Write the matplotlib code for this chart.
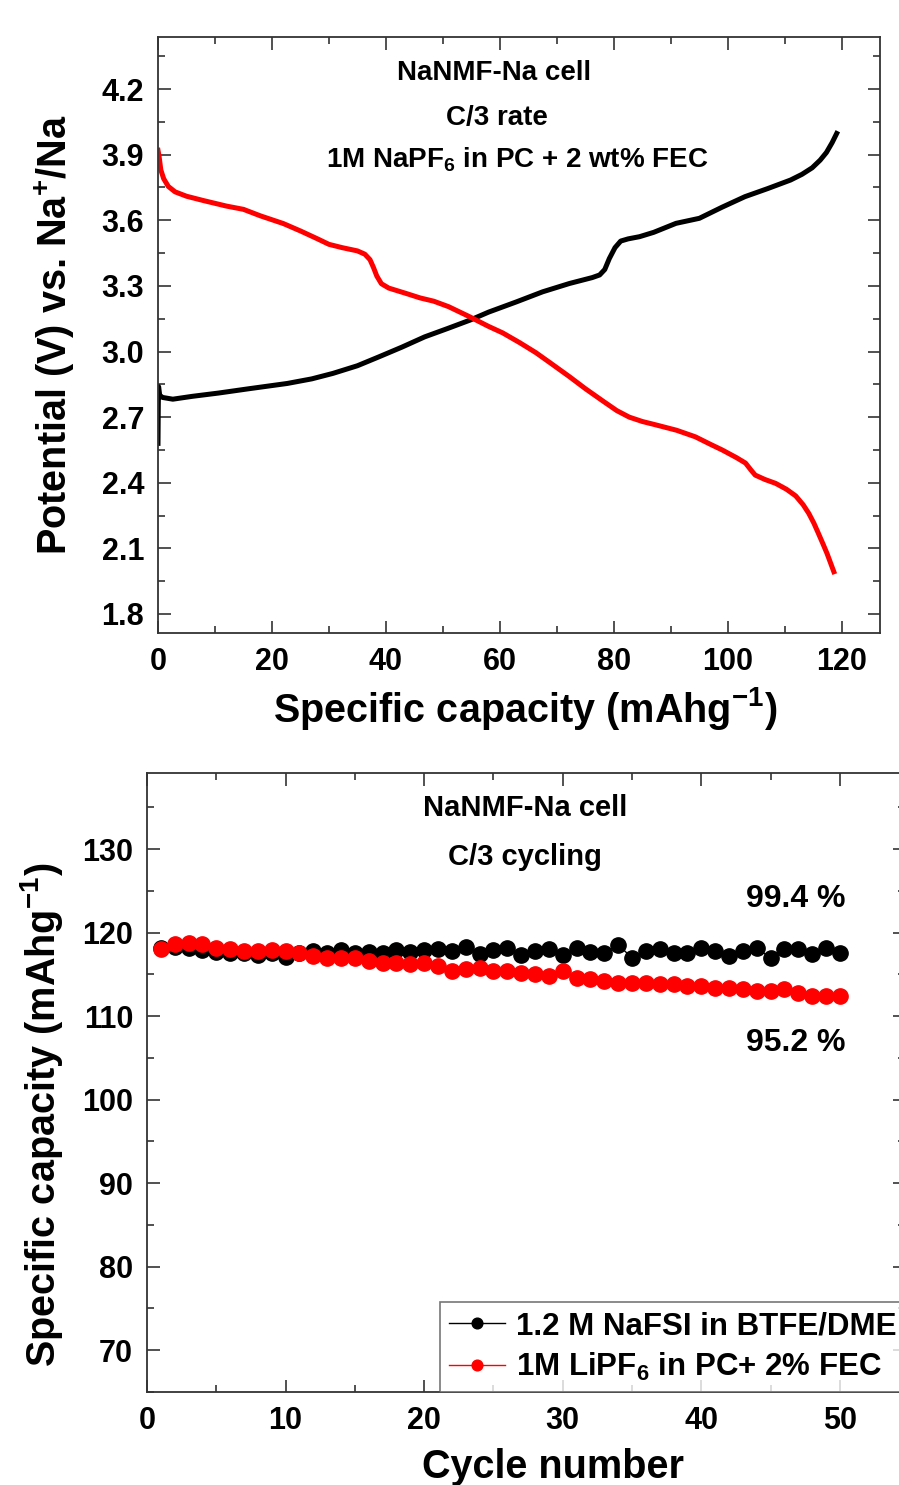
import matplotlib
matplotlib.use('Agg')
import matplotlib.pyplot as plt
from matplotlib.ticker import MultipleLocator

plt.rcParams['font.family'] = ['Liberation Sans', 'DejaVu Sans']
plt.rcParams['font.weight'] = 'bold'
plt.rcParams['mathtext.fontset'] = 'custom'
plt.rcParams['mathtext.rm'] = 'Liberation Sans:bold'
plt.rcParams['mathtext.it'] = 'Liberation Sans:bold'
plt.rcParams['mathtext.bf'] = 'Liberation Sans:bold'

# charge / discharge curves (top panel)
charge_cap = [0.0, 0.05, 0.1, 0.3, 0.8, 2.6, 6.0, 10.6, 16.0, 22.7, 27.0, 30.7,
              35.0, 38.8, 42.8, 46.8, 50.8, 54.8, 58.0, 62.9, 67.5, 72.2, 76.2,
              77.5, 78.4, 79.2, 80.2, 81.2, 82.5, 84.5, 87.0, 90.9, 95.0, 99.0,
              103.0, 107.0, 111.0, 113.0, 114.8, 116.2, 117.3, 118.3, 119.1]
charge_v = [2.58, 2.75, 2.84, 2.80, 2.79, 2.782, 2.795, 2.81, 2.83, 2.854, 2.875,
            2.90, 2.935, 2.976, 3.02, 3.067, 3.105, 3.144, 3.18, 3.227, 3.273,
            3.311, 3.338, 3.35, 3.375, 3.425, 3.475, 3.505, 3.515, 3.525, 3.545,
            3.586, 3.609, 3.66, 3.708, 3.745, 3.784, 3.81, 3.84, 3.875, 3.91,
            3.955, 3.997]

discharge_cap = [0.0, 0.2, 0.5, 1.0, 1.8, 3.0, 5.0, 8.0, 12.0, 15.0, 18.0, 22.0,
                 25.1, 28.0, 30.0, 32.3, 35.0, 36.3, 37.2, 37.8, 38.4, 39.2, 40.5,
                 43.6, 46.0, 48.4, 51.0, 54.6, 58.0, 60.5, 63.5, 66.3, 69.0, 72.2,
                 75.0, 78.0, 80.5, 82.7, 85.0, 87.3, 91.0, 94.3, 97.0, 99.0, 101.5,
                 103.1, 104.0, 104.8, 106.5, 108.4, 110.3, 111.9, 113.2, 114.2,
                 115.1, 115.9, 116.7, 117.4, 118.0, 118.6]
discharge_v = [3.92, 3.89, 3.83, 3.79, 3.755, 3.73, 3.71, 3.69, 3.665, 3.65, 3.62,
               3.585, 3.55, 3.515, 3.49, 3.475, 3.46, 3.445, 3.42, 3.385, 3.345,
               3.31, 3.29, 3.265, 3.245, 3.23, 3.205, 3.16, 3.115, 3.085, 3.04,
               2.995, 2.945, 2.885, 2.83, 2.775, 2.73, 2.70, 2.68, 2.665, 2.64,
               2.61, 2.575, 2.55, 2.515, 2.49, 2.46, 2.435, 2.415, 2.397, 2.37,
               2.34, 2.30, 2.26, 2.215, 2.168, 2.12, 2.077, 2.035, 1.993]

# cycling (bottom panel)
cycles = list(range(1, 51))
nafsi = [118.2, 118.3, 118.2, 117.9, 117.7, 117.6, 117.5, 117.3, 117.6, 117.1,
         117.6, 117.8, 117.5, 117.9, 117.6, 117.7, 117.6, 117.9, 117.7, 117.9,
         118.0, 117.8, 118.3, 117.4, 117.9, 118.2, 117.3, 117.8, 118.0, 117.3,
         118.1, 117.7, 117.6, 118.5, 117.0, 117.8, 118.0, 117.6, 117.6, 118.2,
         117.8, 117.2, 117.8, 118.1, 117.0, 118.0, 118.0, 117.4, 118.2, 117.6]
lipf6 = [118.0, 118.6, 118.8, 118.6, 118.2, 118.0, 117.8, 117.8, 117.9, 117.8,
         117.6, 117.2, 117.0, 117.0, 117.0, 116.6, 116.4, 116.4, 116.2, 116.4,
         116.0, 115.4, 115.6, 115.8, 115.4, 115.4, 115.2, 115.0, 114.8, 115.4,
         114.6, 114.4, 114.2, 114.0, 114.0, 114.0, 113.8, 113.8, 113.6, 113.6,
         113.4, 113.4, 113.2, 113.0, 113.0, 113.3, 112.8, 112.4, 112.4, 112.4]

W, H = 899, 1485
fig = plt.figure(figsize=(W / 100, H / 100), dpi=100)


def box(l, t, r, b):
    return [l / W, 1 - b / H, (r - l) / W, (b - t) / H]


def style(ax):
    ax.tick_params(which='both', direction='in', top=True, right=True,
                   labelsize=22, pad=10, width=1.2, color='#333333')
    ax.tick_params(which='major', length=9)
    ax.tick_params(which='minor', length=5)
    for s in ax.spines.values():
        s.set_linewidth(1.3)
        s.set_color('#333333')


ax1 = fig.add_axes(box(158, 37, 880, 633))
ax1.plot(charge_cap, charge_v, color='black', lw=3.6, solid_joinstyle='round')
ax1.plot(discharge_cap, discharge_v, color='red', lw=3.6, solid_joinstyle='round')
ax1.set_xlim(0, 126.7)
ax1.set_ylim(1.713, 4.438)
ax1.xaxis.set_major_locator(MultipleLocator(20))
ax1.xaxis.set_minor_locator(MultipleLocator(10))
ax1.yaxis.set_major_locator(MultipleLocator(0.3))
ax1.yaxis.set_minor_locator(MultipleLocator(0.15))
ax1.yaxis.set_major_formatter(plt.FormatStrFormatter('%.1f'))
style(ax1)
ax1.set_xlabel(r'Specific capacity (mAhg$^{-1}$)', fontsize=28.5, fontweight='bold')
ax1.set_ylabel(r'Potential (V) vs. Na$^{+}$/Na', fontsize=28.5, fontweight='bold')
ax1.xaxis.set_label_coords(0.508, -0.088)
ax1.yaxis.set_label_coords(-0.112, 0.5)

fig.text(494 / W, 1 - 73 / H, 'NaNMF-Na cell', ha='center', va='center', fontsize=20)
fig.text(497 / W, 1 - 118 / H, 'C/3 rate', ha='center', va='center', fontsize=20)
fig.text(517 / W, 1 - 160 / H, r'1M NaPF$_6$ in PC + 2 wt% FEC', ha='center',
         va='center', fontsize=20)

ax2 = fig.add_axes(box(147, 773, 905, 1392))
ax2.plot(cycles, nafsi, color='black', marker='o', ms=11, lw=1,
         label='1.2 M NaFSI in BTFE/DME')
ax2.plot(cycles, lipf6, color='red', marker='o', ms=11, lw=1,
         label=r'1M LiPF$_6$ in PC+ 2% FEC')
ax2.set_xlim(0, 54.7)
ax2.set_ylim(65, 139.1)
ax2.xaxis.set_major_locator(MultipleLocator(10))
ax2.xaxis.set_minor_locator(MultipleLocator(5))
ax2.yaxis.set_major_locator(MultipleLocator(10))
ax2.yaxis.set_minor_locator(MultipleLocator(5))
style(ax2)
ax2.set_xlabel('Cycle number', fontsize=28.5, fontweight='bold')
ax2.set_ylabel(r'Specific capacity (mAhg$^{-1}$)', fontsize=28.5, fontweight='bold')
ax2.xaxis.set_label_coords(0.536, -0.09)
ax2.yaxis.set_label_coords(-0.108, 0.4475)

fig.text(525 / W, 1 - 808 / H, 'NaNMF-Na cell', ha='center', va='center', fontsize=21)
fig.text(525 / W, 1 - 857 / H, 'C/3 cycling', ha='center', va='center', fontsize=21)
fig.text(845 / W, 1 - 899 / H, '99.4 %', ha='right', va='center', fontsize=23)
fig.text(845 / W, 1 - 1043 / H, '95.2 %', ha='right', va='center', fontsize=23)

leg = ax2.legend(loc='lower left', bbox_to_anchor=(0.386, 0.0), fontsize=22.5,
                 frameon=True, fancybox=False, edgecolor='#555555',
                 handlelength=1.8, handletextpad=0.35, markerscale=0.7,
                 borderaxespad=0, borderpad=0.3, labelspacing=0.3)
leg.get_frame().set_linewidth(1.2)

fig.savefig('out.png', dpi=100)
